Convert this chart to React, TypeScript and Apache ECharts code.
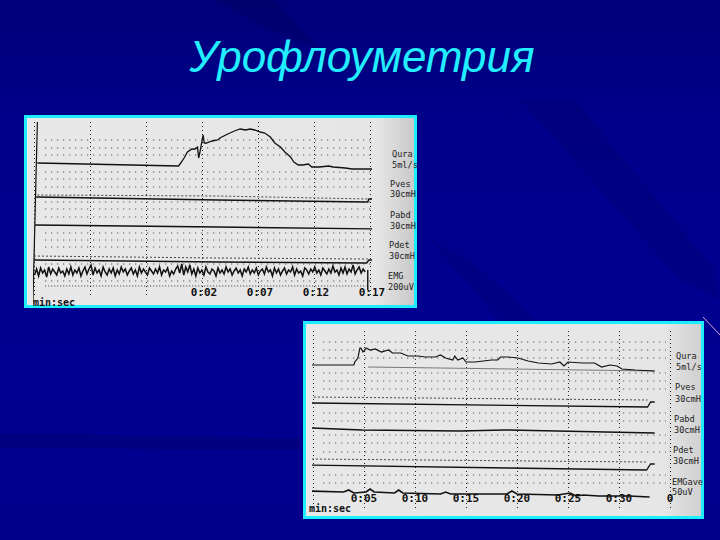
import React, { useEffect, useRef } from "react";
import * as echarts from "echarts";

const title = "Урофлоуметрия";
const ticks1 = ["", "", "", "0:02", "0:07", "0:12", "0:17"];
const ticks2 = ["", "0:05", "0:10", "0:15", "0:20", "0:25", "0:30", "0"];

const qura1 = [[0.3,48],[12.9,51],[13.1,48],[13.4,43],[13.7,37],[14.1,34],[14.4,34],[14.6,32],[14.7,43],[14.8,38],[15.1,20],[15.2,28],[15.4,28],[15.9,26],[16.4,25],[16.6,23],[17.3,19],[17.9,16],[18.4,14],[18.9,15],[19.3,14],[19.7,15],[20.2,17],[20.6,18],[21.1,22],[21.5,28],[22.0,32],[22.4,37],[22.9,42],[23.2,47],[23.6,50],[24.0,50],[24.5,49],[24.8,52],[25.5,52],[26.3,51],[26.7,52],[27.8,53],[28.4,54],[29.6,54],[31.4,54]];
const pves1 = [[0.2,82],[16.4,85],[29.8,87],[29.9,84],[31.4,84]];
const pves1Dots = [[0.3,80],[16.4,81],[29.8,84]];
const pabd1 = [[0.1,110],[16.4,112],[31.4,114]];
const pdet1 = [[0,145],[16.4,147],[29.7,148],[29.9,145],[31.3,145]];
const pdet1Dots = [[0,141],[16.4,143],[29.8,144]];
const emg1 = [160,154,161,153,158,155,162,152,159,154,157,160,153,158,156,161,154,159,152,160,155,158,153,161,156,152,159,154,150,160,153,158,155,161,152,157,160,154,158,153,161,155,159,152,157,154,160,156,153,159,155,161,152,158,154,157,160,153,156,159,154,158,152,160,155,157,153,161,156,159,154,151,158,149,160,152,157,150,159,154,161,153,158,155,160,152,157,159,154,156,161,153,158,155,159,152,157,154,160,156,153,158,155,161,154,157,152,159,155,158,153,160,156,154,159,152,157,155,161,153,158,154,160,156,153,159,155,157,152,160,154,158,156,161,153,155,159,154,157,152,158,155,160,153,156,159,154,158,151,157,155,160,153,158,152,159,154,157,150,159,155,152,158,154,157];
const axis1 = [[0.3,7],[-0.1,189]];
const dotRows1 = [25,33,40,57,64,72,87,94,102,118,125,132,149,166];
const denseRows1 = [171];

const qura2 = [[-0.2,44],[4.0,44],[4.1,41],[4.4,37],[4.6,27],[4.7,27],[4.9,31],[5.2,27],[5.6,29],[6.1,28],[6.7,31],[7.4,29],[7.8,32],[8.6,32],[9.3,35],[10.3,35],[11.0,36],[12.0,36],[12.5,34],[13.0,37],[13.7,39],[13.9,35],[14.2,39],[14.7,37],[15.0,41],[15.9,41],[17.5,39],[18.1,39],[18.4,36],[19.1,36],[20.1,37],[21.1,40],[22.1,42],[23.4,43],[24.2,41],[24.6,45],[25,41],[26.4,42],[27.6,42],[28.3,46],[29.1,44],[29.8,45],[30.3,48],[31.6,49],[33.5,50]];
const qura2Base = [[5.4,46],[33.5,50]];
const pves2 = [[-0.3,82],[32.8,86],[33.1,81],[33.5,81]];
const pves2Dots = [[-0.3,76],[32.8,79]];
const pabd2 = [[-0.3,107],[4.8,109],[14.4,110],[18.8,109],[33.5,112]];
const pdet2 = [[-0.5,144],[19.1,147],[32.7,149],[33.1,143],[33.5,143]];
const pdet2Dots = [[-0.5,138],[32.8,141]];
const emg2 = [[-0.5,170],[3.0,171],[3.5,169],[4.0,172],[5.2,171],[5.6,168],[6.0,171],[8.0,172],[8.4,169],[8.8,172],[12.5,173],[13.0,171],[13.5,173],[19.0,173],[19.5,170],[20.0,173],[24.0,174],[25.2,172],[25.8,175],[26.5,174],[28.0,175],[31.0,175],[33.0,176]];
const axis2 = [[-0.2,10],[-0.5,191]];
const dotRows2 = [21,29,37,52,60,68,92,100,114,122,131,154,162];

const sideLabels1 = [["Qura",392,154],["5ml/s",392,165],["Pves",390,184],["30cmH",390,194],["Pabd",390,215],["30cmH",390,226],["Pdet",389,245],["30cmH",389,256],["EMG",388,276],["200uV",388,287]];
const sideLabels2 = [["Qura",676,356],["5ml/s",676,367],["Pves",675,387],["30cmH",675,399],["Pabd",674,419],["30cmH",674,430],["Pdet",673,450],["30cmH",673,461],["EMGave",672,482],["50uV",672,492]];

const panelFill = (edge: string) => ({
  type: "linear", x: 0, y: 0, x2: 1, y2: 0,
  colorStops: [{ offset: 0, color: "#e8e8e8" }, { offset: 0.9, color: "#e6e6e6" }, { offset: 1, color: edge }],
});

export default function App() {
  const ref = useRef<HTMLDivElement>(null);
  useEffect(() => {
    document.body.style.margin = "0";
    const chart = echarts.init(ref.current!, null, { renderer: "svg" });
    const line = (gi: number, data: any, w = 1.3, color = "#111", type: any = "solid") => ({
      type: "line", xAxisIndex: gi, yAxisIndex: gi, data, showSymbol: false, symbol: "none", clip: false, silent: true,
      lineStyle: { width: w, color, type, join: "miter" }, z: 3,
    });
    const dots = (gi: number, y: number, maxX: number, gap = 5) =>
      line(gi, [[1, y], [maxX, y]], 1, "#333", [1, gap]);
    const emg1Data = emg1.map((v, i) => [i * 0.18 + 0.05, v]);
    const series: any[] = [
      ...dotRows1.map((y) => dots(0, y, 31.4)),
      ...denseRows1.map((y) => dots(0, y, 29.7, 2)),
      line(0, axis1, 1.2),
      line(0, qura1, 1.3),
      line(0, pves1Dots, 1, "#444", [2, 2]),
      line(0, pves1, 1.4),
      line(0, pabd1, 1.4),
      line(0, pdet1Dots, 1, "#444", [2, 2]),
      line(0, pdet1, 1.4),
      line(0, emg1Data, 1.5),
      line(0, [[29.8, 155], [29.8, 175]], 1.4),
      ...dotRows2.map((y) => dots(1, y, 34.6)),
      line(1, axis2, 1.2),
      line(1, qura2Base, 1, "#777"),
      line(1, qura2, 1.2),
      line(1, pves2Dots, 1, "#444", [2, 2]),
      line(1, pves2, 1.3),
      line(1, pabd2, 1.5),
      line(1, pdet2Dots, 1, "#444", [2, 2]),
      line(1, pdet2, 1.3),
      line(1, emg2, 1.6),
    ];
    const xAxis = (gi: number, max: number, labels: string[], margin: number, pad: number) => ({
      type: "value", gridIndex: gi, min: 0, max, interval: 5,
      axisLine: { show: false }, axisTick: { show: false },
      splitLine: { show: true, lineStyle: { color: "#222", type: [1, 3], width: 1 } },
      axisLabel: {
        show: true, inside: true, margin, showMinLabel: true, showMaxLabel: true,
        color: "#111", fontFamily: "DejaVu Sans Mono", fontWeight: "bold", fontSize: 11,
        padding: [0, 0, 0, pad],
        formatter: (v: number) => labels[Math.round(v / 5)] ?? "",
      },
    });
    const yAxis = (gi: number, min: number, max: number) => ({
      type: "value", gridIndex: gi, min, max, inverse: true, show: false, splitLine: { show: false },
    });
    const sideText = (list: any[]) => list.map(([t, x, y]) => ({
      type: "text", x, y, z: 5,
      style: { text: t, fill: "#222", font: "8.6px 'DejaVu Sans Mono'", verticalAlign: "middle" },
    }));
    const streak = (points: number[][], alpha: number) => ({
      type: "polygon", z: -2, shape: { points }, style: { fill: `rgba(0,0,40,${alpha})` },
    });
    chart.setOption({
      animation: false,
      backgroundColor: {
        type: "linear", x: 0, y: 0, x2: 0, y2: 1,
        colorStops: [
          { offset: 0, color: "#00007a" },
          { offset: 0.25, color: "#00008c" },
          { offset: 0.7, color: "#000092" },
          { offset: 1, color: "#00008c" },
        ],
      },
      grid: [
        { left: 34, top: 122, width: 336, height: 176 },
        { left: 313, top: 331, width: 357, height: 177 },
      ],
      xAxis: [xAxis(0, 30, ticks1, 0, 4), xAxis(1, 35, ticks2, 4, 0)],
      yAxis: [yAxis(0, 7, 183), yAxis(1, 10, 187)],
      series,
      graphic: [
        streak([[215,0],[275,0],[320,50],[270,30]], 0.14),
        streak([[520,100],[575,100],[715,270],[720,300],[680,280]], 0.1),
        streak([[430,240],[470,260],[540,322],[500,322]], 0.1),
        streak([[0,433],[300,438],[300,450],[0,448]], 0.14),
        { type: "text", x: 362, y: 56, z: 5, style: { text: title, fill: "#22eeff", font: "italic 44px 'Liberation Sans'", align: "center", verticalAlign: "middle" } },
        { type: "rect", z: -1, shape: { x: 25.5, y: 116.5, width: 390, height: 190 }, style: { fill: panelFill("#c8c8c8") as any, stroke: "#1ceeff", lineWidth: 3 } },
        { type: "rect", z: -1, shape: { x: 304.5, y: 322.5, width: 398, height: 195 }, style: { fill: panelFill("#cfcfcf") as any, stroke: "#1ceeff", lineWidth: 3 } },
        { type: "line", z: -1, shape: { x1: 703, y1: 317, x2: 720, y2: 335 }, style: { stroke: "#d8a8d0", lineWidth: 1 } },
        { type: "text", x: 33, y: 302, z: 5, style: { text: "min:sec", fill: "#111", font: "bold 10px 'DejaVu Sans Mono'", verticalAlign: "middle" } },
        { type: "text", x: 309, y: 508, z: 5, style: { text: "min:sec", fill: "#111", font: "bold 10px 'DejaVu Sans Mono'", verticalAlign: "middle" } },
        ...sideText(sideLabels1),
        ...sideText(sideLabels2),
      ],
    });
    return () => chart.dispose();
  }, []);
  return <div ref={ref} style={{ width: 720, height: 540 }} />;
}
